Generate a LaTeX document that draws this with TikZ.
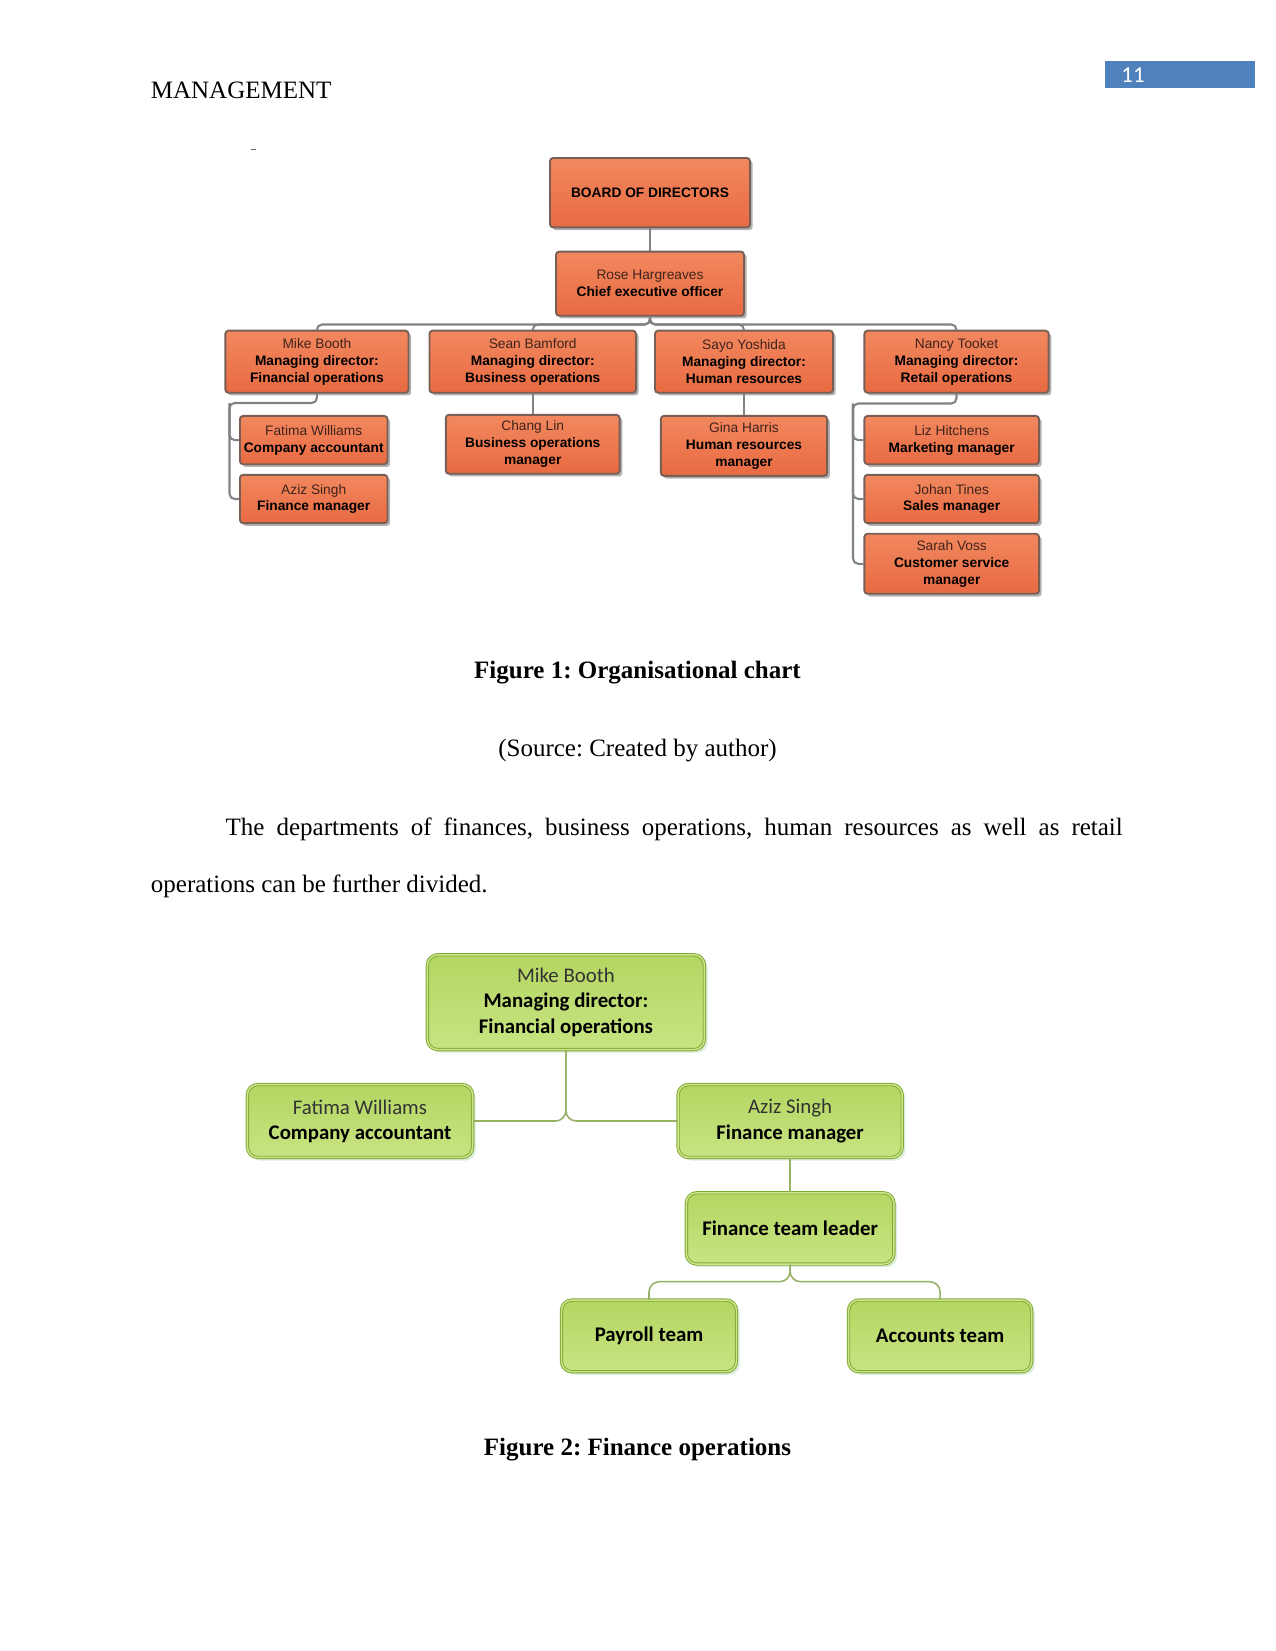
\documentclass[tikz,border=0pt]{standalone}
\usepackage{fontspec}
\setmainfont{Liberation Serif}
\newfontfamily\orgfont{Liberation Sans}
\newfontfamily\grnfont{Carlito}
\usepackage{tikz}
\usetikzlibrary{shadows,calc}
\definecolor{orgedge}{RGB}{120,95,85}
\definecolor{orgtop}{RGB}{242,136,94}
\definecolor{orgbot}{RGB}{232,106,66}
\definecolor{orgname}{RGB}{65,35,28}
\definecolor{orgline}{RGB}{130,130,130}
\definecolor{grnedge}{RGB}{128,168,52}
\definecolor{grnlight}{RGB}{205,230,140}
\definecolor{grntop}{RGB}{180,214,98}
\definecolor{grnbot}{RGB}{200,228,130}
\definecolor{grnline}{RGB}{150,176,100}
\definecolor{pgblue}{RGB}{79,129,189}
\frenchspacing

\begin{document}
\begin{tikzpicture}[
  x=0.48pt, y=-0.48pt,
  bodytext/.style={inner sep=0pt,font=\fontsize{12}{14}\selectfont},
  orgbox/.style={draw=orgedge,line width=0.9pt,rounded corners=1.5pt,
    top color=orgtop,bottom color=orgbot,align=center,inner sep=0pt,
    font=\orgfont\fontsize{6.6}{8.1}\selectfont,
    drop shadow={shadow xshift=1.3pt,shadow yshift=-1.3pt,fill=black,opacity=0.3}},
  grnbox/.style={draw=grnedge,double=grnlight,double distance=0.7pt,line width=0.45pt,
    rounded corners=5pt,top color=grntop,bottom color=grnbot,align=center,inner sep=0pt,
    font=\grnfont\fontsize{10}{12.1}\selectfont,
    drop shadow={shadow xshift=1.5pt,shadow yshift=-1.5pt,fill=black!50!green!40,opacity=0.35}},
  orglink/.style={draw=orgline,line width=1pt,rounded corners=2.5pt},
  grnlink/.style={draw=grnline,line width=0.75pt,rounded corners=5pt}
]
\useasboundingbox (0,0) rectangle (1275,1651);
\fill[white] (0,0) rectangle (1275,1651);

\node[bodytext,anchor=west] (head) at (150.5,90.5) {MANAGEMENT};
\node[fill=pgblue,minimum width=72pt,minimum height=13pt,inner sep=0pt] (pgbox) at (1180,74.5) {};
\node[anchor=west,text=white,inner sep=0pt,font=\grnfont\fontsize{11}{13}\selectfont] (pgnum) at (1121,75.5) {11};
\draw[black!60,line width=0.6pt] (250.5,149.5) -- (256,149.5);

\node[orgbox,minimum width=96pt,minimum height=33.3pt] (board) at (650,192.7) {\textbf{BOARD OF DIRECTORS}};
\node[orgbox,minimum width=90.2pt,minimum height=30.8pt] (ceo) at (650,283.7) {\textcolor{orgname}{Rose Hargreaves}\\\textbf{Chief executive officer}};
\node[orgbox,minimum width=87.9pt,minimum height=29.8pt] (mdfin) at (316.9,361.7) {\textcolor{orgname}{Mike Booth}\\\textbf{Managing director:}\\\textbf{Financial operations}};
\node[orgbox,minimum width=99.1pt,minimum height=29.8pt] (mdbus) at (532.7,361.7) {\textcolor{orgname}{Sean Bamford}\\\textbf{Managing director:}\\\textbf{Business operations}};
\node[orgbox,minimum width=85.4pt,minimum height=29.8pt] (mdhr) at (744,361.7) {\textcolor{orgname}{Sayo Yoshida}\\\textbf{Managing director:}\\\textbf{Human resources}};
\node[orgbox,minimum width=88.4pt,minimum height=29.8pt] (mdret) at (956.5,361.7) {\textcolor{orgname}{Nancy Tooket}\\\textbf{Managing director:}\\\textbf{Retail operations}};
\node[orgbox,minimum width=70.8pt,minimum height=23.2pt] (acct) at (313.7,440.1) {\textcolor{orgname}{Fatima Williams}\\\textbf{Company accountant}};
\node[orgbox,minimum width=70.8pt,minimum height=23.2pt] (finmgr) at (313.7,499) {\textcolor{orgname}{Aziz Singh}\\\textbf{Finance manager}};
\node[orgbox,minimum width=83.4pt,minimum height=28.3pt] (chang) at (532.7,444.3) {\textcolor{orgname}{Chang Lin}\\\textbf{Business operations}\\\textbf{manager}};
\node[orgbox,minimum width=79.8pt,minimum height=28.8pt] (gina) at (744,445.9) {\textcolor{orgname}{Gina Harris}\\\textbf{Human resources}\\\textbf{manager}};
\node[orgbox,minimum width=83.8pt,minimum height=23.2pt] (liz) at (951.7,440.1) {\textcolor{orgname}{Liz Hitchens}\\\textbf{Marketing manager}};
\node[orgbox,minimum width=83.8pt,minimum height=23.2pt] (johan) at (951.7,499) {\textcolor{orgname}{Johan Tines}\\\textbf{Sales manager}};
\node[orgbox,minimum width=83.8pt,minimum height=28.8pt] (sarah) at (951.7,563.8) {\textcolor{orgname}{Sarah Voss}\\\textbf{Customer service}\\\textbf{manager}};
\coordinate (obus) at (650,324.5);
\coordinate (ofin) at (229.5,403);
\coordinate (oret) at (853,403.5);
\draw[orglink] (board) -- (ceo);
\draw[orglink] (ceo.south) |- (mdfin.north |- obus) -- (mdfin.north);
\draw[orglink] (ceo.south) |- (mdbus.north |- obus) -- (mdbus.north);
\draw[orglink] (ceo.south) |- (mdhr.north |- obus) -- (mdhr.north);
\draw[orglink] (ceo.south) |- (mdret.north |- obus) -- (mdret.north);
\draw[orglink] (mdfin.south) |- (ofin) |- (acct.west);
\draw[orglink] (ofin) |- (finmgr.west);
\draw[orglink] (mdbus) -- (chang);
\draw[orglink] (mdhr) -- (gina);
\draw[orglink] (mdret.south) |- (oret) |- (liz.west);
\draw[orglink] (oret) |- (johan.west);
\draw[orglink] (oret) |- (sarah.west);

\node[bodytext,font=\fontsize{12}{14}\selectfont\bfseries] (cap1) at (637.5,672.6) {Figure 1: Organisational chart};
\node[bodytext] (src) at (637.5,750.5) {(Source: Created by author)};
\node[bodytext,anchor=west] (para1) at (225.3,829.4) {\makebox[430.6pt][s]{The departments of finances, business operations, human resources as well as retail}};
\node[bodytext,anchor=west] (para2) at (150.5,886.3) {operations can be further divided.};

\node[grnbox,minimum width=133pt,minimum height=45.5pt] (gmike) at (565.9,1002.2) {\textcolor{black!80}{Mike Booth}\\\textbf{Managing director:}\\\textbf{Financial operations}};
\node[grnbox,minimum width=108.1pt,minimum height=35pt] (gacct) at (360,1121) {\textcolor{black!80}{Fatima Williams}\\\textbf{Company accountant}};
\node[grnbox,minimum width=107.6pt,minimum height=35pt] (gfin) at (790.1,1121) {\textcolor{black!80}{Aziz Singh}\\\textbf{Finance manager}};
\node[grnbox,minimum width=99.6pt,minimum height=34.2pt] (glead) at (790.1,1228.4) {\textbf{Finance team leader}};
\node[grnbox,minimum width=84pt,minimum height=34.4pt] (gpay) at (649,1335.9) {\textbf{Payroll team}};
\node[grnbox,minimum width=87.9pt,minimum height=34.4pt] (gacc) at (940.1,1335.9) {\textbf{Accounts team}};
\coordinate (gbus) at (790.1,1281.7);
\draw[grnlink] (gmike.south) |- (gacct.east);
\draw[grnlink] (gmike.south) |- (gfin.west);
\draw[grnlink] (gfin) -- (glead);
\draw[grnlink] (glead.south) |- (gpay.north |- gbus) -- (gpay.north);
\draw[grnlink] (glead.south) |- (gacc.north |- gbus) -- (gacc.north);

\node[bodytext,font=\fontsize{12}{14}\selectfont\bfseries] (cap2) at (637.5,1449.5) {Figure 2: Finance operations};
\end{tikzpicture}
\end{document}
